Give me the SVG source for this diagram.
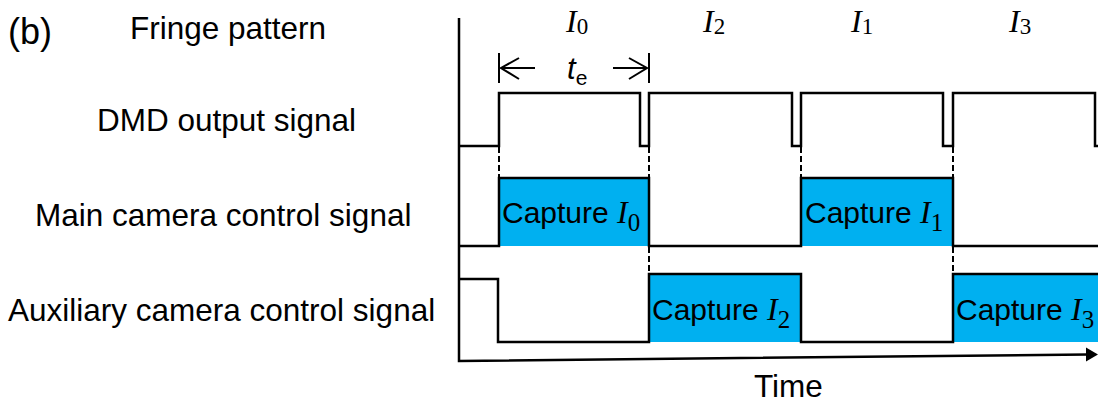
<svg xmlns="http://www.w3.org/2000/svg" width="1098" height="404" viewBox="0 0 1098 404">
<style>
.sig{fill:none;stroke:#000;stroke-width:2.5;stroke-linejoin:miter}
.thin{fill:none;stroke:#000;stroke-width:2}
.box{fill:#00B0F0}
.dash{fill:none;stroke:#000;stroke-width:2;stroke-dasharray:6 3}
.lbl{font-family:"Liberation Sans",Arial,sans-serif;font-size:31.5px;fill:#000}
.cap{font-family:"Liberation Sans",Arial,sans-serif;font-size:30px;fill:#000}
.mi{font-family:"Liberation Serif","Times New Roman",serif;font-style:italic}
.ms{font-family:"Liberation Serif","Times New Roman",serif;font-style:normal}
.hd{font-family:"Liberation Serif","Times New Roman",serif;font-style:italic;font-size:32px;fill:#000}
</style>
<rect width="1098" height="404" fill="#fff"/>
<g id="labels">
<text class="lbl" x="8" y="44" style="font-size:36px">(b)</text>
<text class="lbl" x="130" y="39">Fringe pattern</text>
<text class="lbl" x="97" y="131">DMD output signal</text>
<text class="lbl" x="35" y="226">Main camera control signal</text>
<text class="lbl" x="8" y="321">Auxiliary camera control signal</text>
<text class="lbl" x="754" y="397">Time</text>
</g>
<g id="fringe-labels">
<text class="hd" x="566" y="32">I<tspan class="ms" font-size="23" dy="2">0</tspan></text>
<text class="hd" x="703" y="32">I<tspan class="ms" font-size="23" dy="2">2</tspan></text>
<text class="hd" x="851" y="32">I<tspan class="ms" font-size="23" dy="2">1</tspan></text>
<text class="hd" x="1009" y="32">I<tspan class="ms" font-size="23" dy="2">3</tspan></text>
</g>
<g id="te">
<path class="thin" d="M499,53 V83 M649,53 V83 M501,68 H535 M519,58 L501,68 L519,79 M613,68 H647 M629,58 L647,68 L629,79"/>
<text x="567" y="79" style="font-family:'Liberation Sans',Arial,sans-serif;font-size:31px;font-style:italic">t<tspan font-style="normal" font-size="21" dy="6">e</tspan></text>
</g>
<g id="dmd-signal">
<path class="sig" d="M459,146 H499 V93 H640 V146 H649 V93 H792 V146 H801 V93 H943 V146 H953 V93 H1095 V146 H1098"/>
</g>
<g id="main-camera-signal">
<rect class="box" x="499" y="178" width="150" height="68"/>
<rect class="box" x="801" y="178" width="152" height="68"/>
<path class="sig" d="M459,246 H499 V178 H649 V246 H801 V178 H953 V246 H1098"/>
<text class="cap" x="502" y="223">Capture <tspan class="mi" font-size="32">I</tspan><tspan class="ms" font-size="25" dy="8">0</tspan></text>
<text class="cap" x="805" y="223">Capture <tspan class="mi" font-size="32">I</tspan><tspan class="ms" font-size="25" dy="8">1</tspan></text>
</g>
<g id="aux-camera-signal">
<rect class="box" x="649" y="274" width="152" height="68"/>
<rect class="box" x="953" y="274" width="145" height="68"/>
<path class="sig" d="M460,279 H498 V342 H649 V274 H801 V342 H953 V274 H1098"/>
<text class="cap" x="652" y="320">Capture <tspan class="mi" font-size="32">I</tspan><tspan class="ms" font-size="25" dy="8">2</tspan></text>
<text class="cap" x="956" y="320">Capture <tspan class="mi" font-size="32">I</tspan><tspan class="ms" font-size="25" dy="8">3</tspan></text>
</g>
<g id="connectors">
<path class="dash" d="M499,147 V177 M649,147 V177 M801,147 V177 M953,147 V177 M649,247 V273 M953,247 V273"/>
<path class="sig" d="M459,18 V361 L1088,354.5"/>
<polygon points="1098,354.4 1086,347.5 1086,361.5" fill="#000"/>
</g>
</svg>
